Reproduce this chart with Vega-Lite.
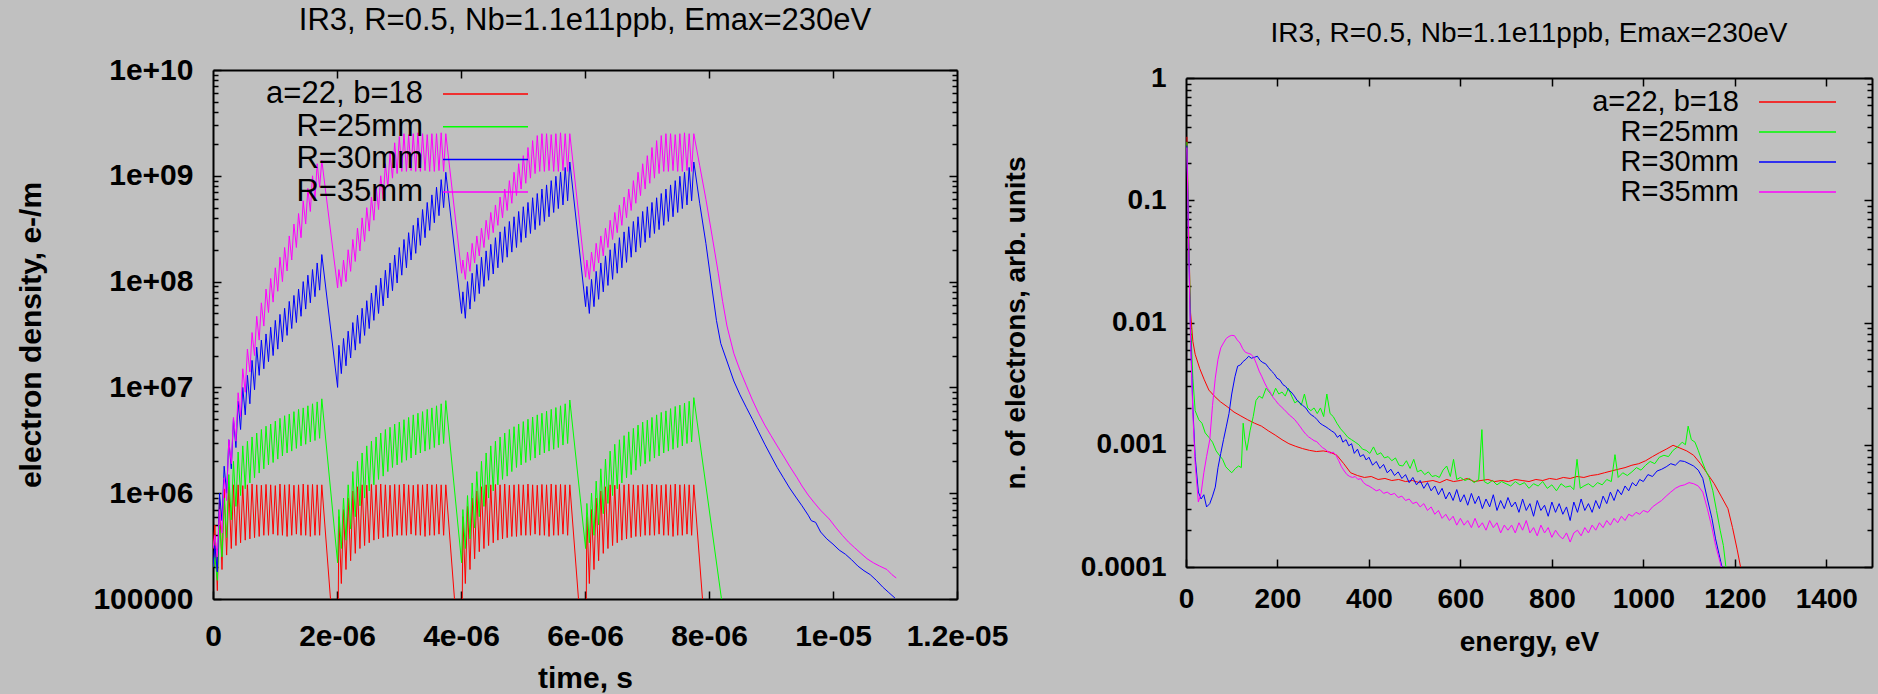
{
"$schema": "https://vega.github.io/schema/vega-lite/v6.json",
"background": "#c0c0c0",
"autosize": {"type": "none"},
"padding": {"left": 213, "top": 70, "right": 1665, "bottom": 624},
"bounds": "flush",
"spacing": 229,
"config": {
"font": "Liberation Sans",
"view": {"stroke": null},
"axis": {"grid": false, "domainColor": "#000000", "domainWidth": 2, "tickColor": "#000000", "tickWidth": 1.5, "labelColor": "#000000", "titleColor": "#000000", "labelFont": "Liberation Sans", "titleFont": "Liberation Sans", "labelFontWeight": "bold", "titleFontWeight": "bold", "labelFlush": false, "labelOverlap": false, "labelBound": false},
"title": {"color": "#000000", "font": "Liberation Sans", "fontWeight": "normal", "baseline": "alphabetic", "anchor": "middle"},
"legend": {"orient": "none", "symbolType": "M-4,0H4", "symbolStrokeWidth": 1.5, "labelAlign": "right", "labelColor": "#000000", "labelFont": "Liberation Sans", "labelFontWeight": "normal", "labelLimit": 600, "padding": 0, "offset": 0}
},
"datasets": {
"la": [
{"t":0,"v":3e5},
{"t":0.03e-6,"v":5e5},{"t":0.07e-6,"v":1.2e5},{"t":0.105e-6,"v":9e5},{"t":0.145e-6,"v":1.9e5},{"t":0.18e-6,"v":1.1e6},{"t":0.22e-6,"v":2.6e5},{"t":0.255e-6,"v":1.15e6},{"t":0.295e-6,"v":3e5},{"t":0.33e-6,"v":1.2e6},{"t":0.37e-6,"v":3.2e5},{"t":0.405e-6,"v":1.2e6},{"t":0.445e-6,"v":3.4e5},{"t":0.48e-6,"v":1.18e6},{"t":0.52e-6,"v":3.6e5},{"t":0.555e-6,"v":1.2e6},{"t":0.595e-6,"v":3.7e5},{"t":0.63e-6,"v":1.22e6},{"t":0.67e-6,"v":3.8e5},{"t":0.705e-6,"v":1.2e6},{"t":0.745e-6,"v":3.9e5},{"t":0.78e-6,"v":1.19e6},{"t":0.82e-6,"v":4e5},{"t":0.855e-6,"v":1.21e6},{"t":0.895e-6,"v":4e5},{"t":0.93e-6,"v":1.2e6},{"t":0.97e-6,"v":4.1e5},{"t":1.005e-6,"v":1.18e6},{"t":1.045e-6,"v":4e5},{"t":1.08e-6,"v":1.22e6},{"t":1.12e-6,"v":4e5},{"t":1.155e-6,"v":1.2e6},{"t":1.195e-6,"v":3.9e5},{"t":1.23e-6,"v":1.21e6},{"t":1.27e-6,"v":4e5},{"t":1.305e-6,"v":1.19e6},{"t":1.345e-6,"v":4.1e5},{"t":1.38e-6,"v":1.2e6},{"t":1.42e-6,"v":4e5},{"t":1.455e-6,"v":1.22e6},{"t":1.495e-6,"v":4e5},{"t":1.53e-6,"v":1.2e6},{"t":1.57e-6,"v":3.9e5},{"t":1.605e-6,"v":1.21e6},{"t":1.645e-6,"v":4e5},{"t":1.68e-6,"v":1.2e6},{"t":1.72e-6,"v":4e5},{"t":1.755e-6,"v":1.2e6},
{"t":2.01e-6,"v":1.3e4},
{"t":2.03e-6,"v":6e5},{"t":2.07e-6,"v":1.4e5},{"t":2.105e-6,"v":7e5},{"t":2.145e-6,"v":1.9e5},{"t":2.18e-6,"v":9e5},{"t":2.22e-6,"v":2.3e5},{"t":2.255e-6,"v":1.05e6},{"t":2.295e-6,"v":2.7e5},{"t":2.33e-6,"v":1.15e6},{"t":2.37e-6,"v":3e5},{"t":2.405e-6,"v":1.2e6},{"t":2.445e-6,"v":3.2e5},{"t":2.48e-6,"v":1.19e6},{"t":2.52e-6,"v":3.4e5},{"t":2.555e-6,"v":1.21e6},{"t":2.595e-6,"v":3.6e5},{"t":2.63e-6,"v":1.2e6},{"t":2.67e-6,"v":3.7e5},{"t":2.705e-6,"v":1.22e6},{"t":2.745e-6,"v":3.8e5},{"t":2.78e-6,"v":1.2e6},{"t":2.82e-6,"v":3.9e5},{"t":2.855e-6,"v":1.19e6},{"t":2.895e-6,"v":3.9e5},{"t":2.93e-6,"v":1.21e6},{"t":2.97e-6,"v":4e5},{"t":3.005e-6,"v":1.2e6},{"t":3.045e-6,"v":4e5},{"t":3.08e-6,"v":1.22e6},{"t":3.12e-6,"v":4e5},{"t":3.155e-6,"v":1.2e6},{"t":3.195e-6,"v":4.1e5},{"t":3.23e-6,"v":1.19e6},{"t":3.27e-6,"v":4e5},{"t":3.305e-6,"v":1.21e6},{"t":3.345e-6,"v":4e5},{"t":3.38e-6,"v":1.2e6},{"t":3.42e-6,"v":3.9e5},{"t":3.455e-6,"v":1.22e6},{"t":3.495e-6,"v":4e5},{"t":3.53e-6,"v":1.2e6},{"t":3.57e-6,"v":4e5},{"t":3.605e-6,"v":1.21e6},{"t":3.645e-6,"v":4.1e5},{"t":3.68e-6,"v":1.2e6},{"t":3.72e-6,"v":4e5},{"t":3.755e-6,"v":1.2e6},
{"t":4.01e-6,"v":1.3e4},
{"t":4.03e-6,"v":6e5},{"t":4.07e-6,"v":1.4e5},{"t":4.105e-6,"v":7.5e5},{"t":4.145e-6,"v":1.9e5},{"t":4.18e-6,"v":9e5},{"t":4.22e-6,"v":2.4e5},{"t":4.255e-6,"v":1.05e6},{"t":4.295e-6,"v":2.8e5},{"t":4.33e-6,"v":1.15e6},{"t":4.37e-6,"v":3e5},{"t":4.405e-6,"v":1.2e6},{"t":4.445e-6,"v":3.2e5},{"t":4.48e-6,"v":1.2e6},{"t":4.52e-6,"v":3.4e5},{"t":4.555e-6,"v":1.21e6},{"t":4.595e-6,"v":3.6e5},{"t":4.63e-6,"v":1.2e6},{"t":4.67e-6,"v":3.7e5},{"t":4.705e-6,"v":1.22e6},{"t":4.745e-6,"v":3.8e5},{"t":4.78e-6,"v":1.19e6},{"t":4.82e-6,"v":3.9e5},{"t":4.855e-6,"v":1.2e6},{"t":4.895e-6,"v":3.9e5},{"t":4.93e-6,"v":1.21e6},{"t":4.97e-6,"v":4e5},{"t":5.005e-6,"v":1.2e6},{"t":5.045e-6,"v":4e5},{"t":5.08e-6,"v":1.22e6},{"t":5.12e-6,"v":4e5},{"t":5.155e-6,"v":1.2e6},{"t":5.195e-6,"v":4.1e5},{"t":5.23e-6,"v":1.19e6},{"t":5.27e-6,"v":4e5},{"t":5.305e-6,"v":1.21e6},{"t":5.345e-6,"v":4e5},{"t":5.38e-6,"v":1.2e6},{"t":5.42e-6,"v":3.9e5},{"t":5.455e-6,"v":1.22e6},{"t":5.495e-6,"v":4e5},{"t":5.53e-6,"v":1.2e6},{"t":5.57e-6,"v":4e5},{"t":5.605e-6,"v":1.21e6},{"t":5.645e-6,"v":4.1e5},{"t":5.68e-6,"v":1.2e6},{"t":5.72e-6,"v":4e5},{"t":5.755e-6,"v":1.2e6},
{"t":6.01e-6,"v":1.3e4},
{"t":6.03e-6,"v":6e5},{"t":6.07e-6,"v":1.4e5},{"t":6.105e-6,"v":7e5},{"t":6.145e-6,"v":1.9e5},{"t":6.18e-6,"v":9e5},{"t":6.22e-6,"v":2.3e5},{"t":6.255e-6,"v":1.05e6},{"t":6.295e-6,"v":2.7e5},{"t":6.33e-6,"v":1.15e6},{"t":6.37e-6,"v":3e5},{"t":6.405e-6,"v":1.2e6},{"t":6.445e-6,"v":3.2e5},{"t":6.48e-6,"v":1.19e6},{"t":6.52e-6,"v":3.4e5},{"t":6.555e-6,"v":1.21e6},{"t":6.595e-6,"v":3.6e5},{"t":6.63e-6,"v":1.2e6},{"t":6.67e-6,"v":3.7e5},{"t":6.705e-6,"v":1.22e6},{"t":6.745e-6,"v":3.8e5},{"t":6.78e-6,"v":1.2e6},{"t":6.82e-6,"v":3.9e5},{"t":6.855e-6,"v":1.19e6},{"t":6.895e-6,"v":3.9e5},{"t":6.93e-6,"v":1.21e6},{"t":6.97e-6,"v":4e5},{"t":7.005e-6,"v":1.2e6},{"t":7.045e-6,"v":4e5},{"t":7.08e-6,"v":1.22e6},{"t":7.12e-6,"v":4e5},{"t":7.155e-6,"v":1.2e6},{"t":7.195e-6,"v":4.1e5},{"t":7.23e-6,"v":1.19e6},{"t":7.27e-6,"v":4e5},{"t":7.305e-6,"v":1.21e6},{"t":7.345e-6,"v":4e5},{"t":7.38e-6,"v":1.2e6},{"t":7.42e-6,"v":3.9e5},{"t":7.455e-6,"v":1.22e6},{"t":7.495e-6,"v":4e5},{"t":7.53e-6,"v":1.2e6},{"t":7.57e-6,"v":4e5},{"t":7.605e-6,"v":1.21e6},{"t":7.645e-6,"v":4.1e5},{"t":7.68e-6,"v":1.2e6},{"t":7.72e-6,"v":4e5},{"t":7.755e-6,"v":1.2e6},
{"t":8.01e-6,"v":1.3e4}
],
"lb": [
{"t":0,"v":2e5},
{"t":0.03e-6,"v":2.5e5},{"t":0.07e-6,"v":1.5e5},{"t":0.105e-6,"v":5e5},{"t":0.145e-6,"v":2.5e5},{"t":0.18e-6,"v":9e5},{"t":0.22e-6,"v":3.8e5},{"t":0.255e-6,"v":1.5e6},{"t":0.295e-6,"v":5.6e5},{"t":0.33e-6,"v":2e6},{"t":0.37e-6,"v":7.5e5},{"t":0.405e-6,"v":2.45e6},{"t":0.445e-6,"v":9.5e5},{"t":0.48e-6,"v":2.8e6},{"t":0.52e-6,"v":1.1e6},{"t":0.555e-6,"v":3.1e6},{"t":0.595e-6,"v":1.25e6},{"t":0.63e-6,"v":3.4e6},{"t":0.67e-6,"v":1.4e6},{"t":0.705e-6,"v":3.7e6},{"t":0.745e-6,"v":1.55e6},{"t":0.78e-6,"v":4e6},{"t":0.82e-6,"v":1.7e6},{"t":0.855e-6,"v":4.3e6},{"t":0.895e-6,"v":1.85e6},{"t":0.93e-6,"v":4.5e6},{"t":0.97e-6,"v":1.95e6},{"t":1.005e-6,"v":4.8e6},{"t":1.045e-6,"v":2.1e6},{"t":1.08e-6,"v":5.1e6},{"t":1.12e-6,"v":2.25e6},{"t":1.155e-6,"v":5.4e6},{"t":1.195e-6,"v":2.4e6},{"t":1.23e-6,"v":5.6e6},{"t":1.27e-6,"v":2.5e6},{"t":1.305e-6,"v":5.9e6},{"t":1.345e-6,"v":2.65e6},{"t":1.38e-6,"v":6.2e6},{"t":1.42e-6,"v":2.8e6},{"t":1.455e-6,"v":6.4e6},{"t":1.495e-6,"v":2.9e6},{"t":1.53e-6,"v":6.7e6},{"t":1.57e-6,"v":3.05e6},{"t":1.605e-6,"v":7e6},{"t":1.645e-6,"v":3.15e6},{"t":1.68e-6,"v":7.3e6},{"t":1.72e-6,"v":3.3e6},{"t":1.755e-6,"v":7.8e6},
{"t":2.01e-6,"v":2.2e5},
{"t":2.03e-6,"v":7e5},{"t":2.07e-6,"v":3e5},{"t":2.105e-6,"v":9e5},{"t":2.145e-6,"v":3.6e5},{"t":2.18e-6,"v":1.2e6},{"t":2.22e-6,"v":4.6e5},{"t":2.255e-6,"v":1.6e6},{"t":2.295e-6,"v":6e5},{"t":2.33e-6,"v":2e6},{"t":2.37e-6,"v":7.6e5},{"t":2.405e-6,"v":2.4e6},{"t":2.445e-6,"v":9e5},{"t":2.48e-6,"v":2.8e6},{"t":2.52e-6,"v":1.05e6},{"t":2.555e-6,"v":3.1e6},{"t":2.595e-6,"v":1.2e6},{"t":2.63e-6,"v":3.4e6},{"t":2.67e-6,"v":1.35e6},{"t":2.705e-6,"v":3.7e6},{"t":2.745e-6,"v":1.45e6},{"t":2.78e-6,"v":4e6},{"t":2.82e-6,"v":1.6e6},{"t":2.855e-6,"v":4.2e6},{"t":2.895e-6,"v":1.75e6},{"t":2.93e-6,"v":4.5e6},{"t":2.97e-6,"v":1.85e6},{"t":3.005e-6,"v":4.7e6},{"t":3.045e-6,"v":1.95e6},{"t":3.08e-6,"v":4.95e6},{"t":3.12e-6,"v":2.05e6},{"t":3.155e-6,"v":5.2e6},{"t":3.195e-6,"v":2.15e6},{"t":3.23e-6,"v":5.5e6},{"t":3.27e-6,"v":2.3e6},{"t":3.305e-6,"v":5.7e6},{"t":3.345e-6,"v":2.4e6},{"t":3.38e-6,"v":5.9e6},{"t":3.42e-6,"v":2.5e6},{"t":3.455e-6,"v":6.2e6},{"t":3.495e-6,"v":2.6e6},{"t":3.53e-6,"v":6.4e6},{"t":3.57e-6,"v":2.7e6},{"t":3.605e-6,"v":6.7e6},{"t":3.645e-6,"v":2.85e6},{"t":3.68e-6,"v":7e6},{"t":3.72e-6,"v":2.95e6},{"t":3.755e-6,"v":7.5e6},
{"t":4.01e-6,"v":2.2e5},
{"t":4.03e-6,"v":7e5},{"t":4.07e-6,"v":3e5},{"t":4.105e-6,"v":9.5e5},{"t":4.145e-6,"v":3.7e5},{"t":4.18e-6,"v":1.25e6},{"t":4.22e-6,"v":4.7e5},{"t":4.255e-6,"v":1.6e6},{"t":4.295e-6,"v":6e5},{"t":4.33e-6,"v":2e6},{"t":4.37e-6,"v":7.5e5},{"t":4.405e-6,"v":2.4e6},{"t":4.445e-6,"v":9e5},{"t":4.48e-6,"v":2.8e6},{"t":4.52e-6,"v":1.05e6},{"t":4.555e-6,"v":3.1e6},{"t":4.595e-6,"v":1.2e6},{"t":4.63e-6,"v":3.4e6},{"t":4.67e-6,"v":1.35e6},{"t":4.705e-6,"v":3.7e6},{"t":4.745e-6,"v":1.45e6},{"t":4.78e-6,"v":4e6},{"t":4.82e-6,"v":1.6e6},{"t":4.855e-6,"v":4.25e6},{"t":4.895e-6,"v":1.75e6},{"t":4.93e-6,"v":4.5e6},{"t":4.97e-6,"v":1.85e6},{"t":5.005e-6,"v":4.75e6},{"t":5.045e-6,"v":1.95e6},{"t":5.08e-6,"v":5e6},{"t":5.12e-6,"v":2.05e6},{"t":5.155e-6,"v":5.25e6},{"t":5.195e-6,"v":2.15e6},{"t":5.23e-6,"v":5.5e6},{"t":5.27e-6,"v":2.3e6},{"t":5.305e-6,"v":5.7e6},{"t":5.345e-6,"v":2.4e6},{"t":5.38e-6,"v":5.95e6},{"t":5.42e-6,"v":2.5e6},{"t":5.455e-6,"v":6.2e6},{"t":5.495e-6,"v":2.6e6},{"t":5.53e-6,"v":6.45e6},{"t":5.57e-6,"v":2.7e6},{"t":5.605e-6,"v":6.7e6},{"t":5.645e-6,"v":2.85e6},{"t":5.68e-6,"v":7e6},{"t":5.72e-6,"v":2.95e6},{"t":5.755e-6,"v":7.6e6},
{"t":6.01e-6,"v":3e5},
{"t":6.03e-6,"v":8e5},{"t":6.07e-6,"v":3.4e5},{"t":6.105e-6,"v":1e6},{"t":6.145e-6,"v":4e5},{"t":6.18e-6,"v":1.3e6},{"t":6.22e-6,"v":5e5},{"t":6.255e-6,"v":1.7e6},{"t":6.295e-6,"v":6.4e5},{"t":6.33e-6,"v":2.1e6},{"t":6.37e-6,"v":8e5},{"t":6.405e-6,"v":2.5e6},{"t":6.445e-6,"v":9.5e5},{"t":6.48e-6,"v":2.9e6},{"t":6.52e-6,"v":1.1e6},{"t":6.555e-6,"v":3.2e6},{"t":6.595e-6,"v":1.25e6},{"t":6.63e-6,"v":3.5e6},{"t":6.67e-6,"v":1.4e6},{"t":6.705e-6,"v":3.8e6},{"t":6.745e-6,"v":1.5e6},{"t":6.78e-6,"v":4.1e6},{"t":6.82e-6,"v":1.65e6},{"t":6.855e-6,"v":4.4e6},{"t":6.895e-6,"v":1.8e6},{"t":6.93e-6,"v":4.7e6},{"t":6.97e-6,"v":1.9e6},{"t":7.005e-6,"v":4.9e6},{"t":7.045e-6,"v":2e6},{"t":7.08e-6,"v":5.2e6},{"t":7.12e-6,"v":2.15e6},{"t":7.155e-6,"v":5.5e6},{"t":7.195e-6,"v":2.25e6},{"t":7.23e-6,"v":5.8e6},{"t":7.27e-6,"v":2.4e6},{"t":7.305e-6,"v":6e6},{"t":7.345e-6,"v":2.5e6},{"t":7.38e-6,"v":6.3e6},{"t":7.42e-6,"v":2.6e6},{"t":7.455e-6,"v":6.6e6},{"t":7.495e-6,"v":2.7e6},{"t":7.53e-6,"v":6.8e6},{"t":7.57e-6,"v":2.8e6},{"t":7.605e-6,"v":7.1e6},{"t":7.645e-6,"v":2.95e6},{"t":7.68e-6,"v":7.4e6},{"t":7.72e-6,"v":3.05e6},{"t":7.755e-6,"v":8e6},
{"t":8.3e-6,"v":3.8e4}
],
"lc": [
{"t":0,"v":2e5},
{"t":0.03e-6,"v":3.2e5},{"t":0.07e-6,"v":1.8e5},{"t":0.105e-6,"v":1e6},{"t":0.145e-6,"v":5.5e5},{"t":0.18e-6,"v":1.8e6},{"t":0.22e-6,"v":1e6},{"t":0.255e-6,"v":3.2e6},{"t":0.295e-6,"v":1.7e6},{"t":0.33e-6,"v":5e6},{"t":0.37e-6,"v":2.7e6},{"t":0.405e-6,"v":7.4e6},{"t":0.445e-6,"v":4e6},{"t":0.48e-6,"v":1e7},{"t":0.52e-6,"v":5.5e6},{"t":0.555e-6,"v":1.3e7},{"t":0.595e-6,"v":7e6},{"t":0.63e-6,"v":1.8e7},{"t":0.67e-6,"v":9.5e6},{"t":0.705e-6,"v":2.4e7},{"t":0.745e-6,"v":1.3e7},{"t":0.78e-6,"v":2.8e7},{"t":0.82e-6,"v":1.5e7},{"t":0.855e-6,"v":3.2e7},{"t":0.895e-6,"v":1.75e7},{"t":0.93e-6,"v":3.7e7},{"t":0.97e-6,"v":2e7},{"t":1.005e-6,"v":4.3e7},{"t":1.045e-6,"v":2.3e7},{"t":1.08e-6,"v":4.9e7},{"t":1.12e-6,"v":2.7e7},{"t":1.155e-6,"v":5.6e7},{"t":1.195e-6,"v":3.1e7},{"t":1.23e-6,"v":6.5e7},{"t":1.27e-6,"v":3.6e7},{"t":1.305e-6,"v":7.4e7},{"t":1.345e-6,"v":4.1e7},{"t":1.38e-6,"v":8.5e7},{"t":1.42e-6,"v":4.7e7},{"t":1.455e-6,"v":1e8},{"t":1.495e-6,"v":5.5e7},{"t":1.53e-6,"v":1.15e8},{"t":1.57e-6,"v":6.3e7},{"t":1.605e-6,"v":1.3e8},{"t":1.645e-6,"v":7.2e7},{"t":1.68e-6,"v":1.5e8},{"t":1.72e-6,"v":8.3e7},{"t":1.755e-6,"v":1.8e8},
{"t":2.01e-6,"v":1e7},
{"t":2.03e-6,"v":2.5e7},{"t":2.07e-6,"v":1.35e7},{"t":2.105e-6,"v":2.9e7},{"t":2.145e-6,"v":1.6e7},{"t":2.18e-6,"v":3.4e7},{"t":2.22e-6,"v":1.9e7},{"t":2.255e-6,"v":4.1e7},{"t":2.295e-6,"v":2.25e7},{"t":2.33e-6,"v":4.8e7},{"t":2.37e-6,"v":2.6e7},{"t":2.405e-6,"v":5.6e7},{"t":2.445e-6,"v":3.1e7},{"t":2.48e-6,"v":6.6e7},{"t":2.52e-6,"v":3.6e7},{"t":2.555e-6,"v":7.8e7},{"t":2.595e-6,"v":4.3e7},{"t":2.63e-6,"v":9.2e7},{"t":2.67e-6,"v":5e7},{"t":2.705e-6,"v":1.08e8},{"t":2.745e-6,"v":5.9e7},{"t":2.78e-6,"v":1.28e8},{"t":2.82e-6,"v":7e7},{"t":2.855e-6,"v":1.5e8},{"t":2.895e-6,"v":8.2e7},{"t":2.93e-6,"v":1.78e8},{"t":2.97e-6,"v":9.7e7},{"t":3.005e-6,"v":2.1e8},{"t":3.045e-6,"v":1.15e8},{"t":3.08e-6,"v":2.5e8},{"t":3.12e-6,"v":1.35e8},{"t":3.155e-6,"v":2.9e8},{"t":3.195e-6,"v":1.6e8},{"t":3.23e-6,"v":3.4e8},{"t":3.27e-6,"v":1.85e8},{"t":3.305e-6,"v":4e8},{"t":3.345e-6,"v":2.2e8},{"t":3.38e-6,"v":4.8e8},{"t":3.42e-6,"v":2.6e8},{"t":3.455e-6,"v":5.6e8},{"t":3.495e-6,"v":3.05e8},{"t":3.53e-6,"v":6.6e8},{"t":3.57e-6,"v":3.6e8},{"t":3.605e-6,"v":7.8e8},{"t":3.645e-6,"v":4.2e8},{"t":3.68e-6,"v":9.2e8},{"t":3.72e-6,"v":5e8},{"t":3.755e-6,"v":1.08e9},
{"t":4.01e-6,"v":5e7},
{"t":4.03e-6,"v":8e7},{"t":4.07e-6,"v":4.5e7},{"t":4.105e-6,"v":1e8},{"t":4.145e-6,"v":5.5e7},{"t":4.18e-6,"v":1.2e8},{"t":4.22e-6,"v":6.5e7},{"t":4.255e-6,"v":1.45e8},{"t":4.295e-6,"v":7.7e7},{"t":4.33e-6,"v":1.7e8},{"t":4.37e-6,"v":9e7},{"t":4.405e-6,"v":1.95e8},{"t":4.445e-6,"v":1.03e8},{"t":4.48e-6,"v":2.25e8},{"t":4.52e-6,"v":1.18e8},{"t":4.555e-6,"v":2.6e8},{"t":4.595e-6,"v":1.35e8},{"t":4.63e-6,"v":2.95e8},{"t":4.67e-6,"v":1.52e8},{"t":4.705e-6,"v":3.3e8},{"t":4.745e-6,"v":1.7e8},{"t":4.78e-6,"v":3.7e8},{"t":4.82e-6,"v":1.9e8},{"t":4.855e-6,"v":4.1e8},{"t":4.895e-6,"v":2.1e8},{"t":4.93e-6,"v":4.6e8},{"t":4.97e-6,"v":2.35e8},{"t":5.005e-6,"v":5.1e8},{"t":5.045e-6,"v":2.6e8},{"t":5.08e-6,"v":5.6e8},{"t":5.12e-6,"v":2.85e8},{"t":5.155e-6,"v":6.2e8},{"t":5.195e-6,"v":3.1e8},{"t":5.23e-6,"v":6.8e8},{"t":5.27e-6,"v":3.4e8},{"t":5.305e-6,"v":7.5e8},{"t":5.345e-6,"v":3.7e8},{"t":5.38e-6,"v":8.2e8},{"t":5.42e-6,"v":4.1e8},{"t":5.455e-6,"v":9e8},{"t":5.495e-6,"v":4.5e8},{"t":5.53e-6,"v":9.9e8},{"t":5.57e-6,"v":4.9e8},{"t":5.605e-6,"v":1.08e9},{"t":5.645e-6,"v":5.3e8},{"t":5.68e-6,"v":1.2e9},{"t":5.72e-6,"v":5.8e8},{"t":5.755e-6,"v":1.35e9},
{"t":6.01e-6,"v":5.8e7},
{"t":6.03e-6,"v":9e7},{"t":6.07e-6,"v":5e7},{"t":6.105e-6,"v":1.05e8},{"t":6.145e-6,"v":5.8e7},{"t":6.18e-6,"v":1.25e8},{"t":6.22e-6,"v":6.8e7},{"t":6.255e-6,"v":1.5e8},{"t":6.295e-6,"v":8e7},{"t":6.33e-6,"v":1.75e8},{"t":6.37e-6,"v":9.2e7},{"t":6.405e-6,"v":2e8},{"t":6.445e-6,"v":1.05e8},{"t":6.48e-6,"v":2.3e8},{"t":6.52e-6,"v":1.2e8},{"t":6.555e-6,"v":2.6e8},{"t":6.595e-6,"v":1.35e8},{"t":6.63e-6,"v":2.95e8},{"t":6.67e-6,"v":1.52e8},{"t":6.705e-6,"v":3.3e8},{"t":6.745e-6,"v":1.7e8},{"t":6.78e-6,"v":3.7e8},{"t":6.82e-6,"v":1.9e8},{"t":6.855e-6,"v":4.1e8},{"t":6.895e-6,"v":2.1e8},{"t":6.93e-6,"v":4.6e8},{"t":6.97e-6,"v":2.35e8},{"t":7.005e-6,"v":5.1e8},{"t":7.045e-6,"v":2.6e8},{"t":7.08e-6,"v":5.6e8},{"t":7.12e-6,"v":2.85e8},{"t":7.155e-6,"v":6.2e8},{"t":7.195e-6,"v":3.1e8},{"t":7.23e-6,"v":6.8e8},{"t":7.27e-6,"v":3.4e8},{"t":7.305e-6,"v":7.5e8},{"t":7.345e-6,"v":3.7e8},{"t":7.38e-6,"v":8.2e8},{"t":7.42e-6,"v":4.1e8},{"t":7.455e-6,"v":9e8},{"t":7.495e-6,"v":4.5e8},{"t":7.53e-6,"v":9.9e8},{"t":7.57e-6,"v":4.9e8},{"t":7.605e-6,"v":1.08e9},{"t":7.645e-6,"v":5.3e8},{"t":7.68e-6,"v":1.2e9},{"t":7.72e-6,"v":5.8e8},{"t":7.755e-6,"v":1.35e9},
{"t":7.85e-6,"v":5.5e8},{"t":7.95e-6,"v":2.3e8},{"t":8.05e-6,"v":8.5e7},{"t":8.12e-6,"v":4.3e7},{"t":8.19e-6,"v":2.6e7},{"t":8.3e-6,"v":1.7e7},{"t":8.4e-6,"v":1.15e7},{"t":8.5e-6,"v":8.5e6},{"t":8.6e-6,"v":6.5e6},{"t":8.7e-6,"v":5e6},{"t":8.8e-6,"v":3.8e6},{"t":8.9e-6,"v":2.9e6},{"t":9e-6,"v":2.25e6},{"t":9.1e-6,"v":1.75e6},{"t":9.2e-6,"v":1.4e6},{"t":9.3e-6,"v":1.12e6},{"t":9.4e-6,"v":9.2e5},{"t":9.5e-6,"v":7.6e5},{"t":9.6e-6,"v":6.2e5},{"t":9.65e-6,"v":5.5e5},{"t":9.72e-6,"v":5.3e5},{"t":9.8e-6,"v":4.3e5},{"t":9.9e-6,"v":3.7e5},{"t":10e-6,"v":3.3e5},{"t":10.1e-6,"v":2.9e5},{"t":10.2e-6,"v":2.65e5},{"t":10.3e-6,"v":2.35e5},{"t":10.4e-6,"v":2.05e5},{"t":10.5e-6,"v":1.85e5},{"t":10.6e-6,"v":1.7e5},{"t":10.7e-6,"v":1.5e5},{"t":10.8e-6,"v":1.3e5},{"t":10.9e-6,"v":1.15e5},{"t":11e-6,"v":1.02e5}
],
"ld": [
{"t":0,"v":3e5},
{"t":0.03e-6,"v":4e5},{"t":0.07e-6,"v":2.5e5},{"t":0.105e-6,"v":7e5},{"t":0.145e-6,"v":4.2e5},{"t":0.18e-6,"v":1.4e6},{"t":0.22e-6,"v":8.5e5},{"t":0.255e-6,"v":3.2e6},{"t":0.295e-6,"v":1.9e6},{"t":0.33e-6,"v":5.2e6},{"t":0.37e-6,"v":3.1e6},{"t":0.405e-6,"v":8.9e6},{"t":0.445e-6,"v":5.3e6},{"t":0.48e-6,"v":1.5e7},{"t":0.52e-6,"v":9e6},{"t":0.555e-6,"v":2.3e7},{"t":0.595e-6,"v":1.4e7},{"t":0.63e-6,"v":3.3e7},{"t":0.67e-6,"v":2e7},{"t":0.705e-6,"v":4.7e7},{"t":0.745e-6,"v":2.8e7},{"t":0.78e-6,"v":6.3e7},{"t":0.82e-6,"v":3.8e7},{"t":0.855e-6,"v":8.5e7},{"t":0.895e-6,"v":5.1e7},{"t":0.93e-6,"v":1.07e8},{"t":0.97e-6,"v":6.4e7},{"t":1.005e-6,"v":1.35e8},{"t":1.045e-6,"v":8.1e7},{"t":1.08e-6,"v":1.7e8},{"t":1.12e-6,"v":1e8},{"t":1.155e-6,"v":2.1e8},{"t":1.195e-6,"v":1.26e8},{"t":1.23e-6,"v":2.7e8},{"t":1.27e-6,"v":1.6e8},{"t":1.305e-6,"v":3.5e8},{"t":1.345e-6,"v":2.1e8},{"t":1.38e-6,"v":4.4e8},{"t":1.42e-6,"v":2.6e8},{"t":1.455e-6,"v":5.8e8},{"t":1.495e-6,"v":3.5e8},{"t":1.53e-6,"v":7.6e8},{"t":1.57e-6,"v":4.6e8},{"t":1.605e-6,"v":1e9},{"t":1.645e-6,"v":6e8},{"t":1.68e-6,"v":1.3e9},{"t":1.72e-6,"v":7.8e8},{"t":1.755e-6,"v":1.4e9},
{"t":2.01e-6,"v":8.7e7},
{"t":2.03e-6,"v":1.3e8},{"t":2.07e-6,"v":9e7},{"t":2.105e-6,"v":1.6e8},{"t":2.145e-6,"v":1e8},{"t":2.18e-6,"v":2e8},{"t":2.22e-6,"v":1.25e8},{"t":2.255e-6,"v":2.5e8},{"t":2.295e-6,"v":1.55e8},{"t":2.33e-6,"v":3.2e8},{"t":2.37e-6,"v":1.95e8},{"t":2.405e-6,"v":4e8},{"t":2.445e-6,"v":2.4e8},{"t":2.48e-6,"v":5e8},{"t":2.52e-6,"v":3e8},{"t":2.555e-6,"v":6.3e8},{"t":2.595e-6,"v":3.8e8},{"t":2.63e-6,"v":8e8},{"t":2.67e-6,"v":4.8e8},{"t":2.705e-6,"v":1e9},{"t":2.745e-6,"v":6e8},{"t":2.78e-6,"v":1.3e9},{"t":2.82e-6,"v":7.8e8},{"t":2.855e-6,"v":1.65e9},{"t":2.895e-6,"v":9.5e8},{"t":2.93e-6,"v":2.05e9},{"t":2.97e-6,"v":1.05e9},{"t":3.005e-6,"v":2.35e9},{"t":3.045e-6,"v":1.1e9},{"t":3.08e-6,"v":2.5e9},{"t":3.12e-6,"v":1.1e9},{"t":3.155e-6,"v":2.45e9},{"t":3.195e-6,"v":1.12e9},{"t":3.23e-6,"v":2.5e9},{"t":3.27e-6,"v":1.1e9},{"t":3.305e-6,"v":2.55e9},{"t":3.345e-6,"v":1.1e9},{"t":3.38e-6,"v":2.5e9},{"t":3.42e-6,"v":1.12e9},{"t":3.455e-6,"v":2.45e9},{"t":3.495e-6,"v":1.1e9},{"t":3.53e-6,"v":2.5e9},{"t":3.57e-6,"v":1.1e9},{"t":3.605e-6,"v":2.5e9},{"t":3.645e-6,"v":1.12e9},{"t":3.68e-6,"v":2.55e9},{"t":3.72e-6,"v":1.1e9},{"t":3.755e-6,"v":2.5e9},
{"t":4.01e-6,"v":1.2e8},
{"t":4.03e-6,"v":1.6e8},{"t":4.07e-6,"v":1.05e8},{"t":4.105e-6,"v":1.9e8},{"t":4.145e-6,"v":1.25e8},{"t":4.18e-6,"v":2.3e8},{"t":4.22e-6,"v":1.5e8},{"t":4.255e-6,"v":2.7e8},{"t":4.295e-6,"v":1.75e8},{"t":4.33e-6,"v":3.2e8},{"t":4.37e-6,"v":2.1e8},{"t":4.405e-6,"v":3.8e8},{"t":4.445e-6,"v":2.5e8},{"t":4.48e-6,"v":4.5e8},{"t":4.52e-6,"v":2.9e8},{"t":4.555e-6,"v":5.3e8},{"t":4.595e-6,"v":3.4e8},{"t":4.63e-6,"v":6.3e8},{"t":4.67e-6,"v":4e8},{"t":4.705e-6,"v":7.5e8},{"t":4.745e-6,"v":4.7e8},{"t":4.78e-6,"v":9e8},{"t":4.82e-6,"v":5.5e8},{"t":4.855e-6,"v":1.08e9},{"t":4.895e-6,"v":6.5e8},{"t":4.93e-6,"v":1.3e9},{"t":4.97e-6,"v":7.5e8},{"t":5.005e-6,"v":1.55e9},{"t":5.045e-6,"v":8.5e8},{"t":5.08e-6,"v":1.85e9},{"t":5.12e-6,"v":9.5e8},{"t":5.155e-6,"v":2.15e9},{"t":5.195e-6,"v":1.05e9},{"t":5.23e-6,"v":2.4e9},{"t":5.27e-6,"v":1.1e9},{"t":5.305e-6,"v":2.5e9},{"t":5.345e-6,"v":1.1e9},{"t":5.38e-6,"v":2.5e9},{"t":5.42e-6,"v":1.12e9},{"t":5.455e-6,"v":2.45e9},{"t":5.495e-6,"v":1.1e9},{"t":5.53e-6,"v":2.5e9},{"t":5.57e-6,"v":1.1e9},{"t":5.605e-6,"v":2.55e9},{"t":5.645e-6,"v":1.12e9},{"t":5.68e-6,"v":2.5e9},{"t":5.72e-6,"v":1.1e9},{"t":5.755e-6,"v":2.5e9},
{"t":6.01e-6,"v":1.1e8},
{"t":6.03e-6,"v":1.6e8},{"t":6.07e-6,"v":1.05e8},{"t":6.105e-6,"v":1.9e8},{"t":6.145e-6,"v":1.25e8},{"t":6.18e-6,"v":2.3e8},{"t":6.22e-6,"v":1.5e8},{"t":6.255e-6,"v":2.7e8},{"t":6.295e-6,"v":1.75e8},{"t":6.33e-6,"v":3.2e8},{"t":6.37e-6,"v":2.1e8},{"t":6.405e-6,"v":3.8e8},{"t":6.445e-6,"v":2.5e8},{"t":6.48e-6,"v":4.5e8},{"t":6.52e-6,"v":2.9e8},{"t":6.555e-6,"v":5.3e8},{"t":6.595e-6,"v":3.4e8},{"t":6.63e-6,"v":6.3e8},{"t":6.67e-6,"v":4e8},{"t":6.705e-6,"v":7.5e8},{"t":6.745e-6,"v":4.7e8},{"t":6.78e-6,"v":9e8},{"t":6.82e-6,"v":5.5e8},{"t":6.855e-6,"v":1.08e9},{"t":6.895e-6,"v":6.5e8},{"t":6.93e-6,"v":1.3e9},{"t":6.97e-6,"v":7.5e8},{"t":7.005e-6,"v":1.55e9},{"t":7.045e-6,"v":8.5e8},{"t":7.08e-6,"v":1.85e9},{"t":7.12e-6,"v":9.5e8},{"t":7.155e-6,"v":2.15e9},{"t":7.195e-6,"v":1.05e9},{"t":7.23e-6,"v":2.4e9},{"t":7.27e-6,"v":1.1e9},{"t":7.305e-6,"v":2.5e9},{"t":7.345e-6,"v":1.1e9},{"t":7.38e-6,"v":2.5e9},{"t":7.42e-6,"v":1.12e9},{"t":7.455e-6,"v":2.45e9},{"t":7.495e-6,"v":1.1e9},{"t":7.53e-6,"v":2.5e9},{"t":7.57e-6,"v":1.1e9},{"t":7.605e-6,"v":2.55e9},{"t":7.645e-6,"v":1.12e9},{"t":7.68e-6,"v":2.5e9},{"t":7.72e-6,"v":1.1e9},{"t":7.755e-6,"v":2.5e9},
{"t":7.85e-6,"v":1.25e9},{"t":7.95e-6,"v":6e8},{"t":8.05e-6,"v":2.7e8},{"t":8.15e-6,"v":1.2e8},{"t":8.22e-6,"v":6.5e7},{"t":8.29e-6,"v":3.8e7},{"t":8.4e-6,"v":2.1e7},{"t":8.5e-6,"v":1.45e7},{"t":8.6e-6,"v":1.05e7},{"t":8.7e-6,"v":7.6e6},{"t":8.8e-6,"v":5.7e6},{"t":8.9e-6,"v":4.4e6},{"t":9e-6,"v":3.5e6},{"t":9.1e-6,"v":2.8e6},{"t":9.2e-6,"v":2.25e6},{"t":9.3e-6,"v":1.8e6},{"t":9.42e-6,"v":1.4e6},{"t":9.5e-6,"v":1.17e6},{"t":9.6e-6,"v":9.6e5},{"t":9.7e-6,"v":8.1e5},{"t":9.8e-6,"v":6.9e5},{"t":9.94e-6,"v":5.7e5},{"t":10.05e-6,"v":4.7e5},{"t":10.15e-6,"v":4e5},{"t":10.25e-6,"v":3.45e5},{"t":10.35e-6,"v":3.05e5},{"t":10.45e-6,"v":2.7e5},{"t":10.55e-6,"v":2.4e5},{"t":10.65e-6,"v":2.2e5},{"t":10.75e-6,"v":2.05e5},{"t":10.87e-6,"v":1.9e5},{"t":10.95e-6,"v":1.7e5},{"t":11.02e-6,"v":1.58e5}
],
"ra": [
{"e":2,"v":0.33},{"e":6,"v":0.05},{"e":10,"v":0.012},{"e":15,"v":0.007},{"e":20,"v":0.0055},{"e":30,"v":0.0042},{"e":40,"v":0.0034},{"e":50,"v":0.0028},{"e":62,"v":0.0025},{"e":75,"v":0.00225},{"e":90,"v":0.00205},{"e":105,"v":0.00185},{"e":120,"v":0.00172},{"e":135,"v":0.0016},{"e":150,"v":0.0015},{"e":165,"v":0.00142},{"e":180,"v":0.0013},{"e":195,"v":0.0012},{"e":210,"v":0.0011},{"e":225,"v":0.00102},{"e":240,"v":0.00097},{"e":255,"v":0.00093},{"e":270,"v":0.0009},{"e":285,"v":0.00088},{"e":300,"v":0.00089},{"e":315,"v":0.00087},{"e":330,"v":0.00082},{"e":345,"v":0.0007},{"e":360,"v":0.00059},{"e":375,"v":0.00056},{"e":390,"v":0.00054},{"e":405,"v":0.00055},{"e":420,"v":0.00052},{"e":435,"v":0.00053},{"e":450,"v":0.00051},{"e":465,"v":0.00052},{"e":480,"v":0.0005},{"e":495,"v":0.00051},{"e":510,"v":0.00049},{"e":525,"v":0.0005},{"e":540,"v":0.00051},{"e":555,"v":0.00049},{"e":570,"v":0.00052},{"e":585,"v":0.0005},{"e":600,"v":0.00051},{"e":615,"v":0.00053},{"e":630,"v":0.0005},{"e":645,"v":0.00051},{"e":660,"v":0.00052},{"e":675,"v":0.0005},{"e":690,"v":0.00051},{"e":705,"v":0.0005},{"e":720,"v":0.00052},{"e":735,"v":0.00051},{"e":750,"v":0.0005},{"e":765,"v":0.00052},{"e":780,"v":0.00051},{"e":795,"v":0.00053},{"e":810,"v":0.00052},{"e":825,"v":0.00054},{"e":840,"v":0.00053},{"e":855,"v":0.00055},{"e":870,"v":0.00054},{"e":885,"v":0.00056},{"e":900,"v":0.00057},{"e":915,"v":0.00059},{"e":930,"v":0.00061},{"e":945,"v":0.00063},{"e":960,"v":0.00065},{"e":975,"v":0.00068},{"e":990,"v":0.0007},{"e":1005,"v":0.00074},{"e":1020,"v":0.0008},{"e":1035,"v":0.00086},{"e":1050,"v":0.00092},{"e":1065,"v":0.00099},{"e":1080,"v":0.00094},{"e":1095,"v":0.00089},{"e":1110,"v":0.00082},{"e":1125,"v":0.0007},{"e":1140,"v":0.00058},{"e":1155,"v":0.00048},{"e":1170,"v":0.00038},{"e":1185,"v":0.0003},{"e":1195,"v":0.00021},{"e":1205,"v":0.00014},{"e":1215,"v":0.00009},{"e":1225,"v":0.00006}
],
"rb": [
{"e":2,"v":0.3},{"e":6,"v":0.05},{"e":10,"v":0.01},{"e":15,"v":0.0035},{"e":20,"v":0.0019},{"e":28,"v":0.0016},{"e":35,"v":0.0015},{"e":42,"v":0.00125},{"e":50,"v":0.00115},{"e":58,"v":0.00105},{"e":66,"v":0.00089},{"e":73,"v":0.00082},{"e":80,"v":0.00076},{"e":87,"v":0.00066},{"e":94,"v":0.00062},{"e":100,"v":0.00059},{"e":108,"v":0.00064},{"e":115,"v":0.00067},{"e":121,"v":0.00065},{"e":125,"v":0.0015},{"e":129,"v":0.0011},{"e":133,"v":0.0009},{"e":140,"v":0.0013},{"e":147,"v":0.0017},{"e":153,"v":0.0023},{"e":160,"v":0.0025},{"e":167,"v":0.0024},{"e":175,"v":0.0029},{"e":182,"v":0.0027},{"e":189,"v":0.0025},{"e":196,"v":0.0029},{"e":203,"v":0.0026},{"e":210,"v":0.0027},{"e":217,"v":0.0025},{"e":224,"v":0.0029},{"e":231,"v":0.0025},{"e":238,"v":0.0022},{"e":245,"v":0.0023},{"e":252,"v":0.0021},{"e":259,"v":0.0026},{"e":266,"v":0.002},{"e":273,"v":0.0019},{"e":280,"v":0.002},{"e":287,"v":0.0018},{"e":294,"v":0.002},{"e":301,"v":0.0017},{"e":308,"v":0.0026},{"e":315,"v":0.0018},{"e":322,"v":0.0017},{"e":330,"v":0.0015},{"e":338,"v":0.00135},{"e":346,"v":0.00125},{"e":354,"v":0.00115},{"e":362,"v":0.0011},{"e":370,"v":0.00105},{"e":378,"v":0.001},{"e":386,"v":0.00092},{"e":394,"v":0.0009},{"e":402,"v":0.00085},{"e":410,"v":0.00096},{"e":418,"v":0.00083},{"e":426,"v":0.00086},{"e":434,"v":0.00078},{"e":442,"v":0.0008},{"e":450,"v":0.00074},{"e":458,"v":0.00078},{"e":466,"v":0.00068},{"e":474,"v":0.00067},{"e":482,"v":0.00074},{"e":490,"v":0.00064},{"e":498,"v":0.00076},{"e":506,"v":0.0006},{"e":514,"v":0.00062},{"e":522,"v":0.00057},{"e":530,"v":0.0006},{"e":538,"v":0.00055},{"e":546,"v":0.00056},{"e":554,"v":0.00054},{"e":562,"v":0.00062},{"e":570,"v":0.00067},{"e":578,"v":0.00055},{"e":585,"v":0.00076},{"e":592,"v":0.00052},{"e":600,"v":0.00054},{"e":610,"v":0.00051},{"e":620,"v":0.00053},{"e":630,"v":0.00049},{"e":640,"v":0.00052},{"e":647,"v":0.00133},{"e":652,"v":0.0005},{"e":660,"v":0.00048},{"e":670,"v":0.00051},{"e":680,"v":0.00047},{"e":690,"v":0.0005},{"e":700,"v":0.00048},{"e":710,"v":0.00046},{"e":720,"v":0.0005},{"e":730,"v":0.00047},{"e":740,"v":0.00049},{"e":750,"v":0.00044},{"e":760,"v":0.00048},{"e":770,"v":0.00046},{"e":780,"v":0.0005},{"e":790,"v":0.00044},{"e":800,"v":0.00047},{"e":810,"v":0.00042},{"e":820,"v":0.00048},{"e":830,"v":0.00045},{"e":840,"v":0.00046},{"e":848,"v":0.00043},{"e":855,"v":0.00076},{"e":862,"v":0.00044},{"e":870,"v":0.00046},{"e":880,"v":0.00048},{"e":890,"v":0.00045},{"e":900,"v":0.00049},{"e":910,"v":0.00047},{"e":920,"v":0.00052},{"e":930,"v":0.0005},{"e":938,"v":0.00083},{"e":945,"v":0.00054},{"e":955,"v":0.00059},{"e":965,"v":0.00056},{"e":975,"v":0.0006},{"e":985,"v":0.00065},{"e":995,"v":0.00062},{"e":1005,"v":0.00068},{"e":1015,"v":0.00073},{"e":1025,"v":0.0007},{"e":1035,"v":0.00079},{"e":1045,"v":0.00082},{"e":1055,"v":0.0008},{"e":1065,"v":0.0009},{"e":1075,"v":0.00096},{"e":1085,"v":0.00105},{"e":1092,"v":0.001},{"e":1098,"v":0.00142},{"e":1105,"v":0.0011},{"e":1113,"v":0.00105},{"e":1120,"v":0.0009},{"e":1128,"v":0.00074},{"e":1136,"v":0.00062},{"e":1144,"v":0.00054},{"e":1152,"v":0.00042},{"e":1160,"v":0.00029},{"e":1168,"v":0.0002},{"e":1175,"v":0.00015},{"e":1182,"v":0.00009},{"e":1190,"v":0.00006}
],
"rc": [
{"e":2,"v":0.28},{"e":6,"v":0.04},{"e":10,"v":0.008},{"e":15,"v":0.002},{"e":20,"v":0.0008},{"e":27,"v":0.00041},{"e":33,"v":0.00036},{"e":39,"v":0.00039},{"e":45,"v":0.00031},{"e":52,"v":0.00033},{"e":58,"v":0.00038},{"e":64,"v":0.00045},{"e":70,"v":0.00065},{"e":76,"v":0.00085},{"e":82,"v":0.0011},{"e":88,"v":0.0014},{"e":94,"v":0.0018},{"e":100,"v":0.0026},{"e":107,"v":0.0036},{"e":113,"v":0.0044},{"e":119,"v":0.0045},{"e":125,"v":0.0048},{"e":131,"v":0.005},{"e":137,"v":0.0053},{"e":143,"v":0.0051},{"e":150,"v":0.0052},{"e":156,"v":0.0053},{"e":162,"v":0.0049},{"e":168,"v":0.0047},{"e":174,"v":0.0046},{"e":180,"v":0.0043},{"e":187,"v":0.004},{"e":193,"v":0.0038},{"e":199,"v":0.0035},{"e":205,"v":0.0034},{"e":212,"v":0.0031},{"e":218,"v":0.003},{"e":224,"v":0.0028},{"e":230,"v":0.0027},{"e":237,"v":0.0025},{"e":243,"v":0.0023},{"e":249,"v":0.0022},{"e":255,"v":0.0021},{"e":262,"v":0.002},{"e":268,"v":0.00185},{"e":274,"v":0.00175},{"e":280,"v":0.0017},{"e":287,"v":0.0016},{"e":293,"v":0.0015},{"e":299,"v":0.00145},{"e":306,"v":0.0014},{"e":312,"v":0.00135},{"e":318,"v":0.0013},{"e":325,"v":0.00125},{"e":331,"v":0.00115},{"e":337,"v":0.0012},{"e":343,"v":0.00105},{"e":350,"v":0.0011},{"e":356,"v":0.00098},{"e":362,"v":0.00102},{"e":368,"v":0.00085},{"e":375,"v":0.00092},{"e":381,"v":0.0008},{"e":388,"v":0.00083},{"e":394,"v":0.00075},{"e":400,"v":0.00079},{"e":408,"v":0.00068},{"e":416,"v":0.00073},{"e":424,"v":0.00064},{"e":432,"v":0.00069},{"e":440,"v":0.00059},{"e":448,"v":0.00063},{"e":456,"v":0.00056},{"e":464,"v":0.0006},{"e":472,"v":0.00053},{"e":480,"v":0.00057},{"e":488,"v":0.00049},{"e":496,"v":0.00054},{"e":504,"v":0.00047},{"e":512,"v":0.00051},{"e":520,"v":0.00044},{"e":528,"v":0.00049},{"e":536,"v":0.00042},{"e":544,"v":0.00046},{"e":552,"v":0.00039},{"e":560,"v":0.00044},{"e":568,"v":0.00036},{"e":576,"v":0.00041},{"e":584,"v":0.00035},{"e":592,"v":0.00043},{"e":600,"v":0.00034},{"e":608,"v":0.00039},{"e":616,"v":0.00032},{"e":624,"v":0.0004},{"e":632,"v":0.00033},{"e":640,"v":0.00038},{"e":648,"v":0.0003},{"e":656,"v":0.00036},{"e":664,"v":0.00031},{"e":672,"v":0.00039},{"e":680,"v":0.00029},{"e":688,"v":0.00035},{"e":696,"v":0.0003},{"e":704,"v":0.00037},{"e":712,"v":0.00031},{"e":720,"v":0.00034},{"e":728,"v":0.00028},{"e":736,"v":0.00036},{"e":744,"v":0.00029},{"e":752,"v":0.00033},{"e":760,"v":0.00026},{"e":768,"v":0.00035},{"e":776,"v":0.00029},{"e":784,"v":0.00032},{"e":792,"v":0.00026},{"e":800,"v":0.00034},{"e":808,"v":0.00028},{"e":816,"v":0.00033},{"e":824,"v":0.00027},{"e":832,"v":0.00031},{"e":840,"v":0.00024},{"e":848,"v":0.00034},{"e":856,"v":0.00028},{"e":864,"v":0.00036},{"e":872,"v":0.00029},{"e":880,"v":0.00033},{"e":888,"v":0.00028},{"e":896,"v":0.00035},{"e":904,"v":0.0003},{"e":912,"v":0.00038},{"e":920,"v":0.00033},{"e":928,"v":0.00041},{"e":936,"v":0.00035},{"e":944,"v":0.00043},{"e":952,"v":0.00039},{"e":960,"v":0.00046},{"e":968,"v":0.00042},{"e":976,"v":0.00049},{"e":984,"v":0.00046},{"e":992,"v":0.00052},{"e":1000,"v":0.0005},{"e":1010,"v":0.00057},{"e":1020,"v":0.00055},{"e":1030,"v":0.00061},{"e":1040,"v":0.00063},{"e":1050,"v":0.00066},{"e":1060,"v":0.0007},{"e":1070,"v":0.00068},{"e":1080,"v":0.00074},{"e":1090,"v":0.00073},{"e":1100,"v":0.0007},{"e":1110,"v":0.00067},{"e":1120,"v":0.00062},{"e":1130,"v":0.00053},{"e":1140,"v":0.00036},{"e":1150,"v":0.00025},{"e":1158,"v":0.00017},{"e":1165,"v":0.00013},{"e":1172,"v":0.0001},{"e":1180,"v":0.00007}
],
"rd": [
{"e":2,"v":0.27},{"e":6,"v":0.04},{"e":10,"v":0.007},{"e":15,"v":0.0018},{"e":20,"v":0.0007},{"e":27,"v":0.00034},{"e":33,"v":0.0004},{"e":39,"v":0.00059},{"e":45,"v":0.0008},{"e":52,"v":0.0011},{"e":58,"v":0.0021},{"e":64,"v":0.0035},{"e":70,"v":0.005},{"e":76,"v":0.0062},{"e":82,"v":0.0068},{"e":88,"v":0.0074},{"e":94,"v":0.0077},{"e":100,"v":0.00785},{"e":106,"v":0.0078},{"e":112,"v":0.0072},{"e":118,"v":0.0068},{"e":124,"v":0.0061},{"e":130,"v":0.0057},{"e":136,"v":0.0056},{"e":142,"v":0.0055},{"e":148,"v":0.0052},{"e":154,"v":0.0046},{"e":160,"v":0.004},{"e":166,"v":0.0036},{"e":172,"v":0.0032},{"e":178,"v":0.0029},{"e":184,"v":0.0027},{"e":190,"v":0.00245},{"e":196,"v":0.0023},{"e":202,"v":0.00215},{"e":208,"v":0.00205},{"e":214,"v":0.00195},{"e":220,"v":0.00185},{"e":226,"v":0.00175},{"e":232,"v":0.00168},{"e":238,"v":0.0016},{"e":244,"v":0.0015},{"e":250,"v":0.0014},{"e":256,"v":0.0013},{"e":262,"v":0.00122},{"e":268,"v":0.00116},{"e":274,"v":0.00112},{"e":280,"v":0.00108},{"e":286,"v":0.00106},{"e":292,"v":0.001},{"e":298,"v":0.00095},{"e":304,"v":0.00092},{"e":310,"v":0.00088},{"e":316,"v":0.00085},{"e":322,"v":0.00087},{"e":328,"v":0.00082},{"e":334,"v":0.00074},{"e":340,"v":0.00066},{"e":346,"v":0.00061},{"e":352,"v":0.00057},{"e":358,"v":0.00055},{"e":364,"v":0.00054},{"e":370,"v":0.00055},{"e":376,"v":0.00052},{"e":382,"v":0.00053},{"e":388,"v":0.00049},{"e":394,"v":0.00047},{"e":400,"v":0.00046},{"e":408,"v":0.00044},{"e":416,"v":0.00042},{"e":424,"v":0.00043},{"e":432,"v":0.0004},{"e":440,"v":0.00041},{"e":448,"v":0.00039},{"e":456,"v":0.0004},{"e":464,"v":0.00037},{"e":472,"v":0.00038},{"e":480,"v":0.00035},{"e":488,"v":0.00036},{"e":496,"v":0.00033},{"e":504,"v":0.00034},{"e":512,"v":0.00031},{"e":520,"v":0.00033},{"e":528,"v":0.00029},{"e":536,"v":0.00031},{"e":544,"v":0.00027},{"e":552,"v":0.00029},{"e":560,"v":0.00025},{"e":568,"v":0.00027},{"e":576,"v":0.00024},{"e":584,"v":0.00026},{"e":592,"v":0.00022},{"e":600,"v":0.00025},{"e":608,"v":0.00022},{"e":616,"v":0.00024},{"e":624,"v":0.00021},{"e":632,"v":0.00025},{"e":640,"v":0.00021},{"e":648,"v":0.00023},{"e":656,"v":0.0002},{"e":664,"v":0.00024},{"e":672,"v":0.00021},{"e":680,"v":0.00023},{"e":688,"v":0.00019},{"e":696,"v":0.00022},{"e":704,"v":0.0002},{"e":712,"v":0.00022},{"e":720,"v":0.00019},{"e":728,"v":0.00023},{"e":736,"v":0.0002},{"e":744,"v":0.00024},{"e":752,"v":0.00019},{"e":760,"v":0.00021},{"e":768,"v":0.00018},{"e":776,"v":0.00022},{"e":784,"v":0.00019},{"e":792,"v":0.00021},{"e":800,"v":0.000175},{"e":808,"v":0.0002},{"e":816,"v":0.00018},{"e":824,"v":0.00017},{"e":832,"v":0.00019},{"e":840,"v":0.00016},{"e":848,"v":0.00019},{"e":856,"v":0.0002},{"e":864,"v":0.00018},{"e":872,"v":0.00021},{"e":880,"v":0.00019},{"e":888,"v":0.00022},{"e":896,"v":0.0002},{"e":904,"v":0.00023},{"e":912,"v":0.00021},{"e":920,"v":0.00024},{"e":928,"v":0.00022},{"e":936,"v":0.00025},{"e":944,"v":0.00023},{"e":952,"v":0.00026},{"e":960,"v":0.00024},{"e":968,"v":0.00027},{"e":976,"v":0.00026},{"e":984,"v":0.00028},{"e":992,"v":0.00027},{"e":1000,"v":0.00029},{"e":1010,"v":0.00028},{"e":1020,"v":0.00031},{"e":1030,"v":0.00033},{"e":1040,"v":0.00035},{"e":1050,"v":0.00038},{"e":1060,"v":0.00041},{"e":1070,"v":0.00044},{"e":1080,"v":0.00046},{"e":1090,"v":0.00047},{"e":1100,"v":0.00049},{"e":1110,"v":0.00048},{"e":1120,"v":0.00046},{"e":1130,"v":0.00041},{"e":1140,"v":0.0003},{"e":1150,"v":0.00021},{"e":1158,"v":0.00015},{"e":1165,"v":0.00012},{"e":1172,"v":0.000095},{"e":1180,"v":0.00006}
]
},
"resolve": {"scale": {"color": "independent"}},
"hconcat": [
{
"width": 744, "height": 529,
"title": {"text": "IR3, R=0.5, Nb=1.1e11ppb, Emax=230eV", "fontSize": 31, "offset": 18},
"resolve": {"axis": {"x": "independent", "y": "independent"}},
"layer": [
{"data": {"name": "la"}, "mark": {"type": "line", "clip": true, "strokeWidth": 1},
"encoding": {
"x": {"field": "t", "type": "quantitative", "scale": {"domain": [0, 1.2e-5], "nice": false, "zero": false},
"axis": {"orient": "bottom", "values": [0, 2e-6, 4e-6, 6e-6, 8e-6, 1e-5, 1.2e-5], "labelExpr": "['0','2e-06','4e-06','6e-06','8e-06','1e-05','1.2e-05'][round(datum.value/2e-6)]", "labelFontSize": 30, "labelPadding": 30, "tickSize": -8, "title": "time, s", "titleFontSize": 30, "titlePadding": 12}},
"y": {"field": "v", "type": "quantitative", "scale": {"type": "log", "domain": [1e5, 1e10], "nice": false},
"axis": {"orient": "left", "values": [1e5,2e5,3e5,4e5,5e5,6e5,7e5,8e5,9e5,1e6,2e6,3e6,4e6,5e6,6e6,7e6,8e6,9e6,1e7,2e7,3e7,4e7,5e7,6e7,7e7,8e7,9e7,1e8,2e8,3e8,4e8,5e8,6e8,7e8,8e8,9e8,1e9,2e9,3e9,4e9,5e9,6e9,7e9,8e9,9e9,1e10], "labelExpr": "abs(log(datum.value)/LN10-round(log(datum.value)/LN10))<0.01 ? (datum.value<5e5 ? '100000' : '1e+' + (datum.value<5e9 ? '0' : '') + round(log(datum.value)/LN10)) : ''", "labelFontSize": 30, "labelPadding": 28, "tickSize": {"condition": {"test": "abs(log(datum.value)/LN10-round(log(datum.value)/LN10))<0.01", "value": -8}, "value": -5}, "title": "electron density, e-/m", "titleFontSize": 30, "titlePadding": 46}},
"color": {"datum": "a=22, b=18", "type": "nominal", "scale": {"domain": ["a=22, b=18", "R=25mm", "R=30mm", "R=35mm"], "range": ["#ff0000", "#00ff00", "#0000ff", "#ff00ff"]}, "legend": {"title": null, "legendX": 257, "legendY": 8.5, "rowPadding": 0.7, "symbolSize": 451.6, "labelOffset": -78, "labelFontSize": 31}}
}},
{"data": {"name": "lb"}, "mark": {"type": "line", "clip": true, "strokeWidth": 1},
"encoding": {
"x": {"field": "t", "type": "quantitative", "scale": {"domain": [0, 1.2e-5], "nice": false, "zero": false},
"axis": {"orient": "top", "values": [2e-6, 4e-6, 6e-6, 8e-6, 1e-5], "labels": false, "tickSize": -8, "title": null}},
"y": {"field": "v", "type": "quantitative", "scale": {"type": "log", "domain": [1e5, 1e10], "nice": false},
"axis": {"orient": "right", "values": [1e5,2e5,3e5,4e5,5e5,6e5,7e5,8e5,9e5,1e6,2e6,3e6,4e6,5e6,6e6,7e6,8e6,9e6,1e7,2e7,3e7,4e7,5e7,6e7,7e7,8e7,9e7,1e8,2e8,3e8,4e8,5e8,6e8,7e8,8e8,9e8,1e9,2e9,3e9,4e9,5e9,6e9,7e9,8e9,9e9,1e10], "labels": false, "tickSize": {"condition": {"test": "abs(log(datum.value)/LN10-round(log(datum.value)/LN10))<0.01", "value": -8}, "value": -5}, "title": null}},
"color": {"datum": "R=25mm", "type": "nominal"}
}},
{"data": {"name": "lc"}, "mark": {"type": "line", "clip": true, "strokeWidth": 1},
"encoding": {
"x": {"field": "t", "type": "quantitative", "scale": {"domain": [0, 1.2e-5], "nice": false, "zero": false}, "axis": null},
"y": {"field": "v", "type": "quantitative", "scale": {"type": "log", "domain": [1e5, 1e10], "nice": false}, "axis": null},
"color": {"datum": "R=30mm", "type": "nominal"}
}},
{"data": {"name": "ld"}, "mark": {"type": "line", "clip": true, "strokeWidth": 1},
"encoding": {
"x": {"field": "t", "type": "quantitative", "scale": {"domain": [0, 1.2e-5], "nice": false, "zero": false}, "axis": null},
"y": {"field": "v", "type": "quantitative", "scale": {"type": "log", "domain": [1e5, 1e10], "nice": false}, "axis": null},
"color": {"datum": "R=35mm", "type": "nominal"}
}}
]
},
{
"width": 686, "height": 497,
"title": {"text": "IR3, R=0.5, Nb=1.1e11ppb, Emax=230eV", "fontSize": 28, "offset": 16},
"resolve": {"axis": {"x": "independent", "y": "independent"}},
"layer": [
{"data": {"name": "ra"}, "mark": {"type": "line", "clip": true, "strokeWidth": 1},
"encoding": {
"x": {"field": "e", "type": "quantitative", "scale": {"domain": [0, 1500], "nice": false, "zero": false},
"axis": {"orient": "bottom", "values": [0,200,400,600,800,1000,1200,1400], "format": "d", "labelFontSize": 28, "labelPadding": 26, "tickSize": -8, "title": "energy, eV", "titleFontSize": 28, "titlePadding": 15}},
"y": {"field": "v", "type": "quantitative", "scale": {"type": "log", "domain": [1e-4, 1], "range": [497, 8], "nice": false},
"axis": {"orient": "left", "values": [1e-4,2e-4,3e-4,4e-4,5e-4,6e-4,7e-4,8e-4,9e-4,1e-3,2e-3,3e-3,4e-3,5e-3,6e-3,7e-3,8e-3,9e-3,1e-2,2e-2,3e-2,4e-2,5e-2,6e-2,7e-2,8e-2,9e-2,0.1,0.2,0.3,0.4,0.5,0.6,0.7,0.8,0.9,1], "labelExpr": "abs(log(datum.value)/LN10-round(log(datum.value)/LN10))<0.01 ? ['1','0.1','0.01','0.001','0.0001'][round(-log(datum.value)/LN10)] : ''", "labelFontSize": 28, "labelPadding": 28, "tickSize": {"condition": {"test": "abs(log(datum.value)/LN10-round(log(datum.value)/LN10))<0.01", "value": -8}, "value": -5}, "title": "n. of electrons, arb. units", "titleFontSize": 28, "titlePadding": 50}},
"color": {"datum": "a=22, b=18", "type": "nominal", "scale": {"domain": ["a=22, b=18", "R=25mm", "R=30mm", "R=35mm"], "range": ["#ff0000", "#00ff00", "#0000ff", "#ff00ff"]}, "legend": {"title": null, "legendX": 597, "legendY": 17.5, "rowPadding": 0, "symbolSize": 370.6, "labelOffset": -73, "labelFontSize": 29}}
}},
{"data": {"name": "rb"}, "mark": {"type": "line", "clip": true, "strokeWidth": 1},
"encoding": {
"x": {"field": "e", "type": "quantitative", "scale": {"domain": [0, 1500], "nice": false, "zero": false},
"axis": {"orient": "top", "offset": -8, "values": [200,400,600,800,1000,1200,1400], "labels": false, "tickSize": -8, "title": null}},
"y": {"field": "v", "type": "quantitative", "scale": {"type": "log", "domain": [1e-4, 1], "range": [497, 8], "nice": false},
"axis": {"orient": "right", "values": [1e-4,2e-4,3e-4,4e-4,5e-4,6e-4,7e-4,8e-4,9e-4,1e-3,2e-3,3e-3,4e-3,5e-3,6e-3,7e-3,8e-3,9e-3,1e-2,2e-2,3e-2,4e-2,5e-2,6e-2,7e-2,8e-2,9e-2,0.1,0.2,0.3,0.4,0.5,0.6,0.7,0.8,0.9,1], "labels": false, "tickSize": {"condition": {"test": "abs(log(datum.value)/LN10-round(log(datum.value)/LN10))<0.01", "value": -8}, "value": -5}, "title": null}},
"color": {"datum": "R=25mm", "type": "nominal"}
}},
{"data": {"name": "rc"}, "mark": {"type": "line", "clip": true, "strokeWidth": 1},
"encoding": {
"x": {"field": "e", "type": "quantitative", "scale": {"domain": [0, 1500], "nice": false, "zero": false}, "axis": null},
"y": {"field": "v", "type": "quantitative", "scale": {"type": "log", "domain": [1e-4, 1], "range": [497, 8], "nice": false}, "axis": null},
"color": {"datum": "R=30mm", "type": "nominal"}
}},
{"data": {"name": "rd"}, "mark": {"type": "line", "clip": true, "strokeWidth": 1},
"encoding": {
"x": {"field": "e", "type": "quantitative", "scale": {"domain": [0, 1500], "nice": false, "zero": false}, "axis": null},
"y": {"field": "v", "type": "quantitative", "scale": {"type": "log", "domain": [1e-4, 1], "range": [497, 8], "nice": false}, "axis": null},
"color": {"datum": "R=35mm", "type": "nominal"}
}}
]
}
]
}
